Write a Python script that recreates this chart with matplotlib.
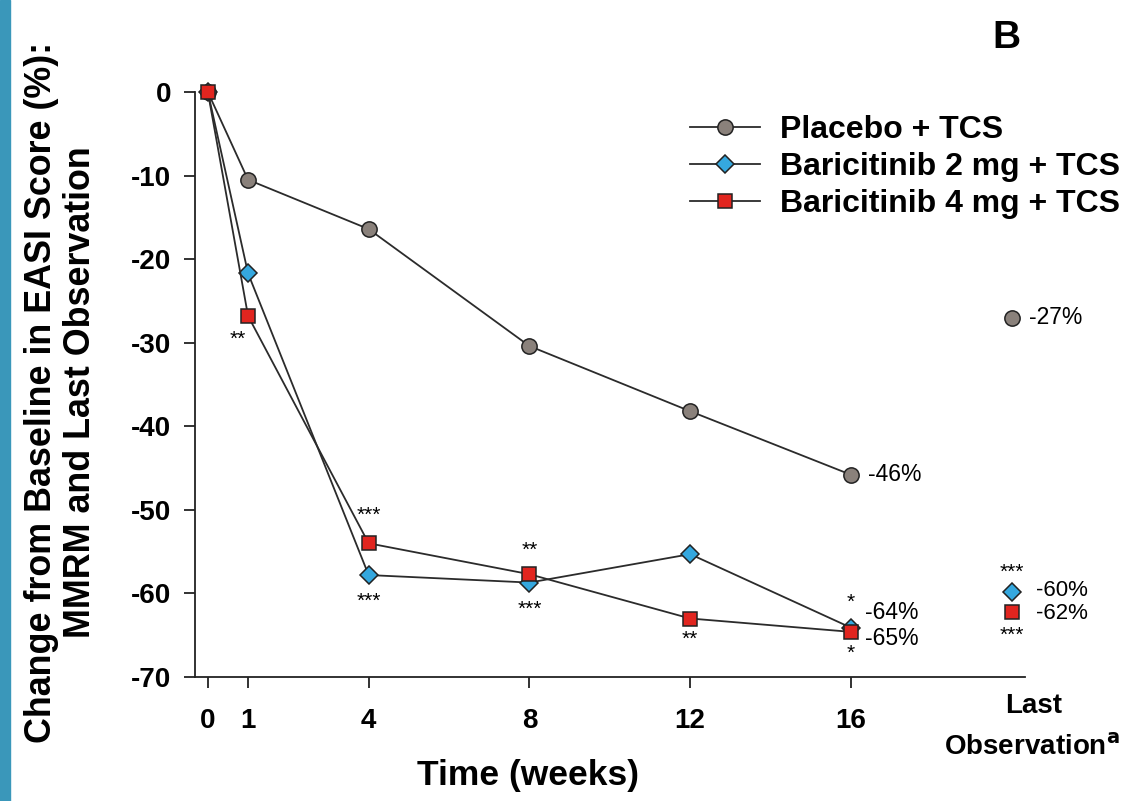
import matplotlib
matplotlib.use("Agg")
import matplotlib.pyplot as plt
from matplotlib.patches import Rectangle

plt.rcParams['font.family'] = ['Liberation Sans', 'DejaVu Sans']

weeks = [0, 1, 4, 8, 12, 16]
placebo = [0, -10.5, -16.4, -30.4, -38.2, -45.8]
bari2 = [0, -21.7, -57.8, -58.7, -55.3, -64.1]
bari4 = [0, -26.8, -54.0, -57.7, -63.0, -64.6]
last_x = 20
last_placebo = -27
last_bari2 = -59.8
last_bari4 = -62.2
series_names = ["Placebo + TCS", "Baricitinib 2 mg + TCS", "Baricitinib 4 mg + TCS"]
end_labels = ["-46%", "-64%", "-65%"]
last_labels = ["-27%", "-60%", "-62%"]
yticks = [0, -10, -20, -30, -40, -50, -60, -70]

W, H = 1144, 801
fig = plt.figure(figsize=(W / 100, H / 100), dpi=100)
fig.patches.append(Rectangle((0, 0), 10 / W, 1, transform=fig.transFigure,
                             color="#3a97ba", zorder=0))
ax = fig.add_axes([195 / W, (H - 677) / H, (1025 - 195) / W, (677 - 92) / H])
ax.set_xlim(-0.32, 20.33)
ax.set_ylim(-70, 0)

lc = "#2b2b2b"
c_pl, c_b2, c_b4 = "#8a817b", "#35a8df", "#e1251f"
kw = dict(color=lc, lw=1.3, mec="#222222", mew=1.1, clip_on=False)
ax.plot(weeks, placebo, marker="o", ms=11, mfc=c_pl, label=series_names[0], zorder=3, **kw)
ax.plot(weeks, bari2, marker="D", ms=9.5, mfc=c_b2, label=series_names[1], zorder=4, **kw)
ax.plot(weeks, bari4, marker="s", ms=10, mfc=c_b4, label=series_names[2], zorder=5, **kw)

mk = dict(ls="none", mec="#222222", mew=1.1, clip_on=False)
ax.plot([last_x], [last_placebo], marker="o", ms=11, mfc=c_pl, **mk)
ax.plot([last_x], [last_bari2], marker="D", ms=9.5, mfc=c_b2, **mk)
ax.plot([last_x], [last_bari4], marker="s", ms=10, mfc=c_b4, **mk)

# value labels
vfs = 16
ax.text(16.42, placebo[-1], end_labels[0], fontsize=16.5, va="center", ha="left")
ax.text(16.35, -62.3, end_labels[1], fontsize=16.5, va="center", ha="left")
ax.text(16.35, -65.4, end_labels[2], fontsize=16.5, va="center", ha="left")
ax.text(20.42, last_placebo, last_labels[0], fontsize=16.5, va="center", ha="left")
ax.text(20.6, -59.6, last_labels[1], fontsize=vfs, va="center", ha="left")
ax.text(20.6, -62.4, last_labels[2], fontsize=vfs, va="center", ha="left")

# significance stars
sfs = 15
stars = [
    (0.75, -29.6, "**"),
    (4, -50.6, "***"), (4, -60.9, "***"),
    (8, -54.8, "**"), (8, -61.9, "***"),
    (12, -65.5, "**"),
    (16, -61.1, "*"), (16, -67.2, "*"),
    (20, -57.5, "***"), (20, -65.0, "***"),
]
for x, y, s in stars:
    ax.text(x, y, s, fontsize=sfs, ha="center", va="center")

for sp in ["top", "right"]:
    ax.spines[sp].set_visible(False)
for sp in ["left", "bottom"]:
    ax.spines[sp].set_linewidth(1.3)
    ax.spines[sp].set_color("#222222")
ax.set_yticks(yticks)
ax.set_yticklabels([str(v) for v in yticks], fontsize=20, fontweight="bold")
ax.set_xticks(weeks)
ax.set_xticklabels([str(v) for v in weeks], fontsize=20, fontweight="bold")
ax.tick_params(direction="out", length=8, width=1.3, color="#222222")
ax.tick_params(axis="y", pad=9)
ax.tick_params(axis="x", pad=14)

fig.text(1034 / W, 1 - 706 / H, "Last", fontsize=20, fontweight="bold", ha="center", va="center")
fig.text(1032 / W, 1 - 748 / H, r"Observation$^{\mathbf{a}}$", fontsize=20, fontweight="bold",
         ha="center", va="center")

fig.text(528 / W, 1 - 776 / H, "Time (weeks)", fontsize=25.5, fontweight="bold",
         ha="center", va="center")
fig.text(61 / W, 1 - 392 / H, "Change from Baseline in EASI Score (%):\nMMRM and Last Observation",
         rotation=90, fontsize=25.8, fontweight="bold", ha="center", va="center",
         linespacing=1.15)
fig.text(1006 / W, 1 - 38 / H, "B", fontsize=28, fontweight="bold", ha="center", va="center")

leg = ax.legend(loc="upper left", bbox_to_anchor=((690 - 195) / (1025 - 195), 1 - (115 - 92) / (677 - 92)),
                frameon=False, prop={"weight": "bold", "size": 23}, handlelength=2.2,
                handletextpad=0.62, labelspacing=0.22, borderaxespad=0, borderpad=0)

fig.savefig("out.png", dpi=100)
